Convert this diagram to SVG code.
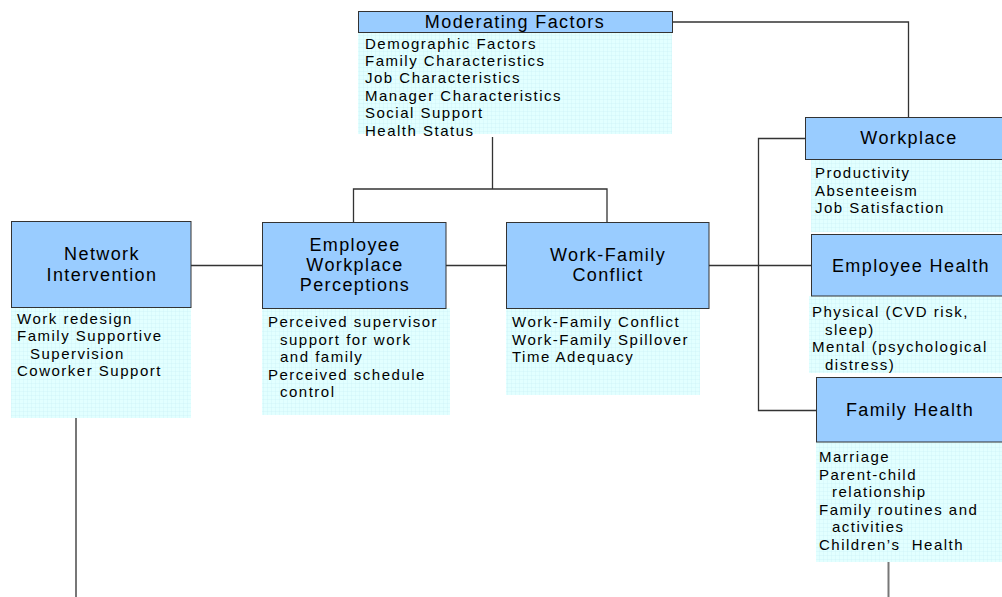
<svg xmlns="http://www.w3.org/2000/svg" width="1002" height="597" viewBox="0 0 1002 597">
<defs>
<pattern id="grid" width="4" height="4" patternUnits="userSpaceOnUse">
<rect width="4" height="4" fill="#E2FFFF"/>
<path d="M4 0V4M0 4H4" stroke="#C6F0F6" stroke-width="0.6" fill="none"/>
</pattern>
<style>
.hdr{fill:#99CCFF;stroke:#333;stroke-width:1}
.body{fill:url(#grid)}
.ht{font-family:"Liberation Sans",Arial,sans-serif;font-size:18px;letter-spacing:1.4px;fill:#000;text-anchor:middle}
.bt{font-family:"Liberation Sans",Arial,sans-serif;font-size:15px;letter-spacing:1.5px;fill:#000}
.ln{stroke:#333;stroke-width:1.3;fill:none}
.lg{stroke:#777;stroke-width:2;fill:none}
</style>
</defs>
<rect width="1002" height="597" fill="#fff"/>
<g id="connectors">
<path class="ln" d="M673 22H908.5V117"/>
<path class="ln" d="M492.5 137V189H353.5V222M492.5 189H607V222"/>
<path class="ln" d="M191 265.5H262"/>
<path class="ln" d="M446 265.5H506"/>
<path class="ln" d="M709 265.5H811"/>
<path class="ln" d="M805 138.5H758.5V410.5H816"/>
<path class="lg" d="M76 418V597"/>
<path class="lg" d="M888.5 562V597"/>
</g>
<g id="moderating-factors">
<rect class="body" x="358" y="33" width="314" height="101"/>
<rect class="hdr" x="358.5" y="11.5" width="314" height="21"/>
<text class="ht" x="515" y="27.5">Moderating Factors</text>
<text class="bt" x="365" y="48.5">Demographic Factors</text>
<text class="bt" x="365" y="66">Family Characteristics</text>
<text class="bt" x="365" y="83">Job Characteristics</text>
<text class="bt" x="365" y="100.5">Manager Characteristics</text>
<text class="bt" x="365" y="118">Social Support</text>
<text class="bt" x="365" y="135.5">Health Status</text>
</g>
<g id="network-intervention">
<rect class="body" x="11" y="307" width="180" height="111"/>
<rect class="hdr" x="11.5" y="221.5" width="179.5" height="86"/>
<text class="ht" x="102" y="259.5">Network</text>
<text class="ht" x="102" y="280.5">Intervention</text>
<text class="bt" x="17" y="323.5">Work redesign</text>
<text class="bt" x="17" y="341">Family Supportive</text>
<text class="bt" x="30" y="358.5">Supervision</text>
<text class="bt" x="17" y="376">Coworker Support</text>
</g>
<g id="employee-workplace-perceptions">
<rect class="body" x="262" y="308" width="188" height="107"/>
<rect class="hdr" x="262.5" y="222.5" width="183.5" height="86"/>
<text class="ht" x="355" y="250.5">Employee</text>
<text class="ht" x="355" y="270.5">Workplace</text>
<text class="ht" x="355" y="290.5">Perceptions</text>
<text class="bt" x="268" y="327">Perceived supervisor</text>
<text class="bt" x="280" y="344.5">support for work</text>
<text class="bt" x="280" y="362">and family</text>
<text class="bt" x="268" y="379.5">Perceived schedule</text>
<text class="bt" x="280" y="396.5">control</text>
</g>
<g id="work-family-conflict">
<rect class="body" x="506" y="308" width="194" height="87"/>
<rect class="hdr" x="506.5" y="222.5" width="202.5" height="86"/>
<text class="ht" x="608" y="260.5">Work-Family</text>
<text class="ht" x="608" y="280.5">Conflict</text>
<text class="bt" x="512" y="327">Work-Family Conflict</text>
<text class="bt" x="512" y="344.5">Work-Family Spillover</text>
<text class="bt" x="512" y="362">Time Adequacy</text>
</g>
<g id="workplace">
<rect class="body" x="811" y="159" width="191" height="73"/>
<rect class="hdr" x="805.5" y="117.5" width="200" height="42"/>
<text class="ht" x="909" y="143.5">Workplace</text>
<text class="bt" x="815" y="178">Productivity</text>
<text class="bt" x="815" y="195.5">Absenteeism</text>
<text class="bt" x="815" y="213">Job Satisfaction</text>
</g>
<g id="employee-health">
<rect class="body" x="809" y="296" width="193" height="77"/>
<rect class="hdr" x="811.5" y="234.5" width="194" height="61.5"/>
<text class="ht" x="911" y="271.5">Employee Health</text>
<text class="bt" x="812" y="317">Physical (CVD risk,</text>
<text class="bt" x="825" y="334.5">sleep)</text>
<text class="bt" x="812" y="352">Mental (psychological</text>
<text class="bt" x="825" y="369.5">distress)</text>
</g>
<g id="family-health">
<rect class="body" x="816" y="442" width="186" height="120"/>
<rect class="hdr" x="816.5" y="377.5" width="190" height="64.5"/>
<text class="ht" x="910" y="415.5">Family Health</text>
<text class="bt" x="819" y="462">Marriage</text>
<text class="bt" x="819" y="479.5">Parent-child</text>
<text class="bt" x="832" y="497">relationship</text>
<text class="bt" x="819" y="514.5">Family routines and</text>
<text class="bt" x="832" y="532">activities</text>
<text class="bt" x="819" y="549.5">Children’s&#160; Health</text>
</g>
</svg>
